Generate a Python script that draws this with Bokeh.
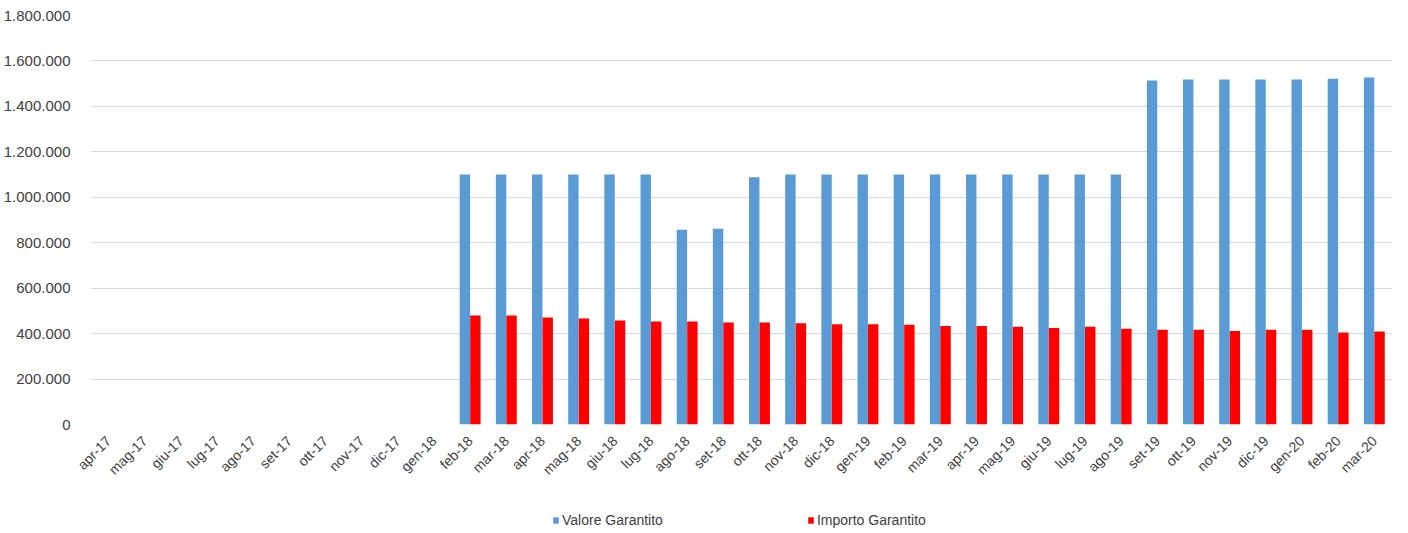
from bokeh.plotting import figure
from bokeh.models import (FactorRange, Range1d, FixedTicker, CustomJSTickFormatter,
                          Legend, LegendItem, ColumnDataSource)
from bokeh.transform import dodge
from bokeh.layouts import column
from bokeh.embed import file_html
from bokeh.resources import INLINE
import math

months = ["apr-17", "mag-17", "giu-17", "lug-17", "ago-17", "set-17", "ott-17", "nov-17",
          "dic-17", "gen-18", "feb-18", "mar-18", "apr-18", "mag-18", "giu-18", "lug-18",
          "ago-18", "set-18", "ott-18", "nov-18", "dic-18", "gen-19", "feb-19", "mar-19",
          "apr-19", "mag-19", "giu-19", "lug-19", "ago-19", "set-19", "ott-19", "nov-19",
          "dic-19", "gen-20", "feb-20", "mar-20"]

valore_garantito = [None] * 10 + [
    1100000, 1100000, 1100000, 1100000, 1100000, 1100000, 857000, 861000, 1088000,
    1100000, 1100000, 1100000, 1100000, 1100000, 1100000, 1100000, 1100000, 1100000,
    1100000, 1514000, 1518000, 1518000, 1518000, 1518000, 1522000, 1527000]

importo_garantito = [None] * 10 + [
    480000, 480000, 471000, 466000, 458000, 453000, 453000, 449000, 449000,
    446000, 441500, 441500, 438500, 434000, 434000, 430000, 425000, 430000,
    421000, 416500, 416500, 412000, 416500, 416500, 405000, 409000]

series_names = ["Valore Garantito", "Importo Garantito"]
series_colors = ["#5B9BD5", "#FF0000"]

y_ticks = [0, 200000, 400000, 600000, 800000, 1000000, 1200000, 1400000, 1600000, 1800000]

m_v = [m for m, v in zip(months, valore_garantito) if v is not None]
v_v = [v for v in valore_garantito if v is not None]
m_i = [m for m, v in zip(months, importo_garantito) if v is not None]
v_i = [v for v in importo_garantito if v is not None]
src_v = ColumnDataSource(dict(x=m_v, top=v_v))
src_i = ColumnDataSource(dict(x=m_i, top=v_i))

p = figure(x_range=FactorRange(*months, range_padding=0),
           y_range=Range1d(0, y_ticks[-1]),
           width=1392, height=500, output_backend="svg", toolbar_location=None,
           min_border_left=82, min_border_top=15, min_border_right=0, min_border_bottom=76)
p.outline_line_color = None
p.background_fill_color = "white"
p.border_fill_color = "white"

p.vbar(x=dodge("x", -0.148, range=p.x_range), top="top", width=0.288,
       source=src_v, color=series_colors[0], line_color=None)
p.vbar(x=dodge("x", 0.142, range=p.x_range), top="top", width=0.288,
       source=src_i, color=series_colors[1], line_color=None)

p.yaxis.ticker = FixedTicker(ticks=y_ticks)
p.yaxis.formatter = CustomJSTickFormatter(code="""
    return Math.round(tick).toString().replace(/\\B(?=(\\d{3})+(?!\\d))/g, '.');
""")
p.yaxis.axis_line_color = None
p.yaxis.major_tick_line_color = None
p.yaxis.minor_tick_line_color = None
p.yaxis.major_label_standoff = 14
p.yaxis.major_label_text_font = "Liberation Sans"
p.yaxis.major_label_text_font_size = "15px"
p.yaxis.major_label_text_color = "#404040"

p.xaxis.axis_line_color = None
p.xaxis.major_tick_line_color = None
p.xaxis.minor_tick_line_color = None
p.xaxis.major_tick_out = 0
p.xaxis.major_label_orientation = math.pi / 4
p.xaxis.major_label_standoff = 14
p.xaxis.major_label_text_font = "Liberation Sans"
p.xaxis.major_label_text_font_size = "14px"
p.xaxis.major_label_text_color = "#404040"

p.xgrid.grid_line_color = None
p.ygrid.grid_line_color = "#d9d9d9"
p.ygrid.grid_line_width = 1

# legend strip below the chart (its frame is aligned with the chart's frame)
lf = figure(width=1392, height=40, output_backend="svg", toolbar_location=None,
            x_range=Range1d(0, 1), y_range=Range1d(0, 1),
            x_axis_location=None, y_axis_location=None,
            min_border_left=0, min_border_right=0, min_border_top=0, min_border_bottom=0)
lf.outline_line_color = None
lf.xgrid.grid_line_color = None
lf.ygrid.grid_line_color = None
items = []
for name, col in zip(series_names, series_colors):
    # one out-of-view bar so the legend has a glyph to draw
    r = lf.vbar(x=[5], top=[1], width=0.1, color=col, line_color=None)
    items.append(LegendItem(label=name, renderers=[r]))

legend = Legend(items=items, orientation="horizontal", location=(462, 12),
                spacing=144, glyph_width=7, glyph_height=8, label_standoff=3,
                label_text_font="Liberation Sans", label_text_font_size="14px",
                label_text_color="#404040", border_line_color=None,
                background_fill_alpha=0, padding=0, margin=0)
lf.add_layout(legend, "center")

layout = column(p, lf, spacing=0)
open("out.html", "w").write(file_html(layout, INLINE))
